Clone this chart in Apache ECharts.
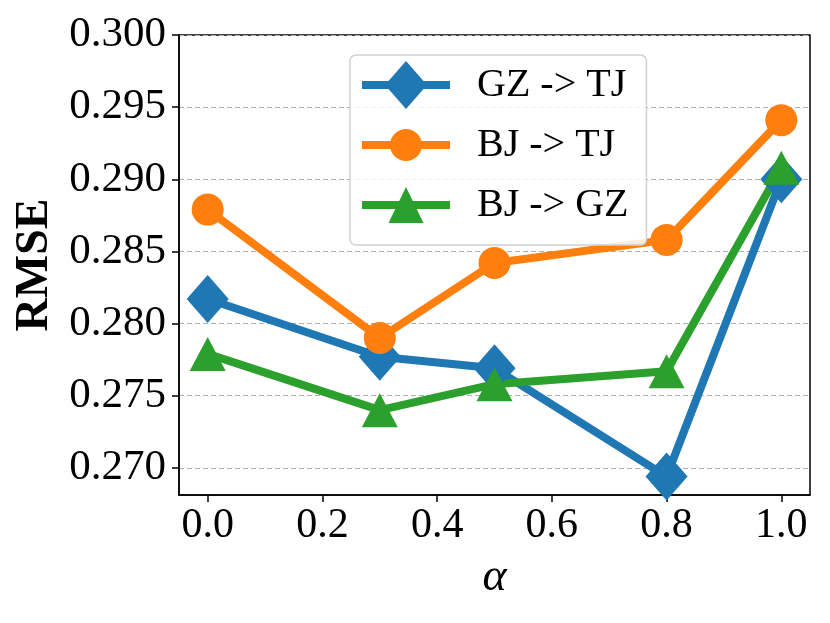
<!DOCTYPE html>
<html>
<head>
<meta charset="utf-8">
<script src="https://cdn.jsdelivr.net/npm/echarts@6/dist/echarts.min.js"></script>
<style>
  html, body { margin: 0; padding: 0; background: #fff; }
  #container { width: 830px; height: 623px; }
</style>
</head>
<body>
<div id="container"></div>
<script>
var alphas = [0.0, 0.3, 0.5, 0.8, 1.0];
var gzToTj = [0.2817, 0.2777, 0.2769, 0.2694, 0.2900];
var bjToTj = [0.2879, 0.2790, 0.2842, 0.2858, 0.2941];
var bjToGz = [0.2779, 0.2740, 0.2758, 0.2767, 0.2908];
var xTicks = [0.0, 0.2, 0.4, 0.6, 0.8, 1.0];
var yTicks = [0.270, 0.275, 0.280, 0.285, 0.290, 0.295, 0.300];

function pairs(ys) {
  return alphas.map(function (a, i) { return [a, ys[i]]; });
}

// legend icons: line bar + marker, in an 88 x 48 box (tiny corner triangle keeps the box size)
var corner = 'M0 0 L0.01 0 L0 0.01 Z M88 48 L87.99 48 L88 47.99 Z ';
var bar = 'M0 20 L88 20 L88 28 L0 28 Z ';
var iconDiamond = 'path://' + corner + bar + 'M44 0 L65 24 L44 48 L23 24 Z';
var iconCircle = 'path://' + corner + bar + 'M28 24 A16 16 0 1 1 60 24 A16 16 0 1 1 28 24 Z';
var iconTriangle = 'path://' + corner + bar + 'M44 6 L61.5 42 L26.5 42 Z';

var dom = document.getElementById('container');
var myChart = echarts.init(dom, null, { renderer: 'canvas' });
var font = 'Liberation Serif';

var option = {
  animation: false,
  backgroundColor: '#fff',
  textStyle: { fontFamily: font },
  grid: {
    left: 179, top: 35, right: 20, bottom: 128,
    show: true, borderColor: '#000', borderWidth: 1.5, backgroundColor: 'transparent'
  },
  legend: {
    left: 350, top: 55,
    orient: 'vertical',
    padding: [6, 18, 16, 12],
    itemWidth: 88, itemHeight: 48, itemGap: 12,
    backgroundColor: 'rgba(255,255,255,0.85)',
    borderColor: '#d0d0d0', borderWidth: 1.5, borderRadius: 6,
    textStyle: { fontFamily: font, fontSize: 40, color: '#000', padding: [0, 0, 0, 22] },
    data: [
      { name: 'GZ -> TJ', icon: iconDiamond },
      { name: 'BJ -> TJ', icon: iconCircle },
      { name: 'BJ -> GZ', icon: iconTriangle }
    ]
  },
  xAxis: {
    type: 'value',
    min: -0.05, max: 1.05,
    name: 'α',
    nameLocation: 'middle',
    nameGap: 60,
    nameTextStyle: { fontFamily: font, fontSize: 46, fontStyle: 'italic', color: '#000' },
    axisLine: { show: true, onZero: false, lineStyle: { color: '#000', width: 1.5 } },
    axisTick: { show: true, length: 7, customValues: xTicks, lineStyle: { color: '#000', width: 1.5 } },
    axisLabel: {
      customValues: xTicks, fontSize: 42, color: '#000', margin: 10, fontFamily: font,
      formatter: function (v) { return v.toFixed(1); }
    },
    splitLine: { show: false }
  },
  yAxis: {
    type: 'value',
    min: 0.26812, max: 0.300,
    name: 'RMSE',
    nameLocation: 'middle',
    nameGap: 116,
    nameTextStyle: { fontFamily: font, fontSize: 46, fontWeight: 'bold', color: '#000' },
    axisLine: { show: true, onZero: false, lineStyle: { color: '#000', width: 1.5 } },
    axisTick: { show: true, length: 7, customValues: yTicks, lineStyle: { color: '#000', width: 1.5 } },
    axisLabel: {
      customValues: yTicks, fontSize: 43, color: '#000', margin: 13, fontFamily: font,
      formatter: function (v) { return v.toFixed(3); }
    },
    splitLine: { show: true, lineStyle: { color: '#b0b0b0', type: [5, 3], width: 1.2 } }
  },
  series: [
    {
      name: 'GZ -> TJ', type: 'line', data: pairs(gzToTj),
      symbol: 'diamond', symbolSize: [42, 48],
      lineStyle: { width: 8, color: '#1f77b4' },
      itemStyle: { color: '#1f77b4' }
    },
    {
      name: 'BJ -> TJ', type: 'line', data: pairs(bjToTj),
      symbol: 'circle', symbolSize: 32,
      lineStyle: { width: 8, color: '#ff7f0e' },
      itemStyle: { color: '#ff7f0e' }
    },
    {
      name: 'BJ -> GZ', type: 'line', data: pairs(bjToGz),
      symbol: 'triangle', symbolSize: [36, 34],
      lineStyle: { width: 8, color: '#2ca02c' },
      itemStyle: { color: '#2ca02c' }
    }
  ]
};

myChart.setOption(option);
window.addEventListener('resize', myChart.resize);
</script>
</body>
</html>
